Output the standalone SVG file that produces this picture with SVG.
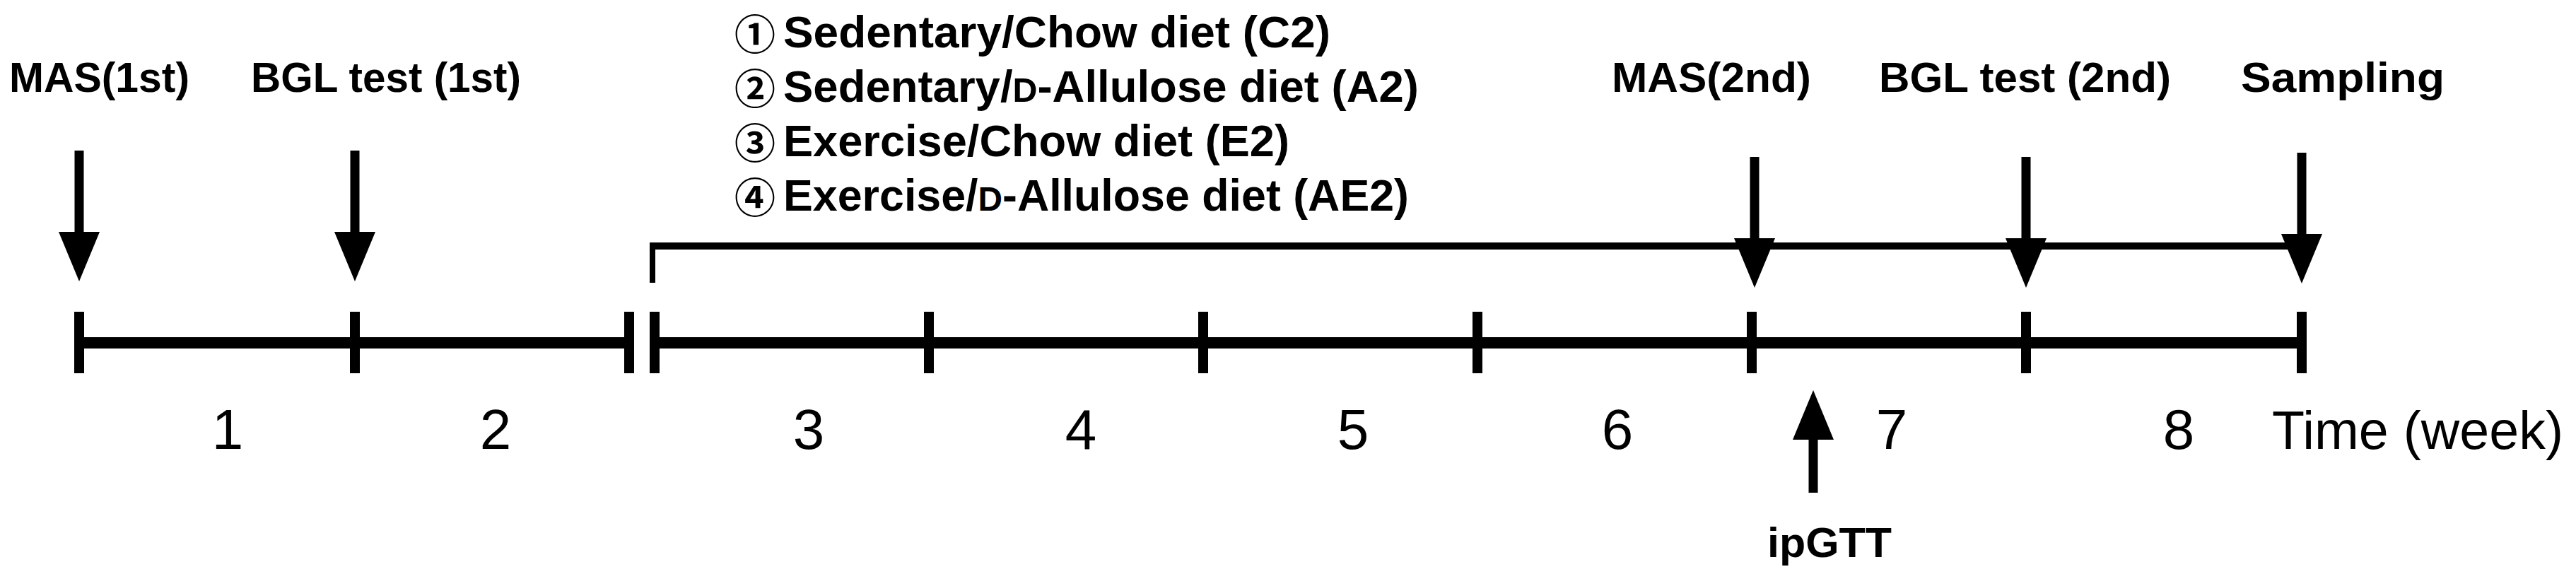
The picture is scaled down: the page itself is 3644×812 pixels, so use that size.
<svg xmlns="http://www.w3.org/2000/svg" width="3644" height="812" viewBox="0 0 3644 812">
<style>
  text { font-family: "Liberation Sans", Arial, sans-serif; fill: #000; }
  .lbl { font-weight: bold; font-size: 60px; }
  .lst { font-weight: bold; font-size: 63px; }
  .sc { font-size: 48px; }
  .circ { font-family: "Noto Sans CJK JP", "DejaVu Sans", sans-serif; font-weight: bold; font-size: 58px; text-anchor: middle; }
  .num { font-size: 80px; text-anchor: middle; }
  .axis { stroke: #000; stroke-width: 16; fill: none; }
  .tick { stroke: #000; stroke-width: 14; }
  .shaft { stroke: #000; stroke-width: 13; fill: none; marker-end: url(#head); }
  .brk { stroke: #000; fill: none; }
</style>
<defs>
  <marker id="head" viewBox="0 0 70 58" refX="0" refY="29" markerWidth="70" markerHeight="58" markerUnits="userSpaceOnUse" orient="auto">
    <path d="M0,0 L70,29 L0,58 Z" fill="#000"/>
  </marker>
</defs>
<rect width="3644" height="812" fill="#fff"/>

<g id="label-mas1"><text class="lbl" x="13" y="130" textLength="255" lengthAdjust="spacingAndGlyphs">MAS(1st)</text></g>
<g id="label-bgl1"><text class="lbl" x="355" y="130" textLength="382" lengthAdjust="spacingAndGlyphs">BGL test (1st)</text></g>
<g id="label-mas2"><text class="lbl" x="2280" y="130" textLength="282" lengthAdjust="spacingAndGlyphs">MAS(2nd)</text></g>
<g id="label-bgl2"><text class="lbl" x="2658" y="130" textLength="413" lengthAdjust="spacingAndGlyphs">BGL test (2nd)</text></g>
<g id="label-sampling"><text class="lbl" x="3170" y="130" textLength="288" lengthAdjust="spacingAndGlyphs">Sampling</text></g>

<g id="groups-list">
  <text class="circ" x="1068" y="70">①</text>
  <text class="lst" x="1108" y="67" textLength="774" lengthAdjust="spacingAndGlyphs">Sedentary/Chow diet (C2)</text>
  <text class="circ" x="1068" y="147">②</text>
  <text class="lst" x="1108" y="144" textLength="899" lengthAdjust="spacingAndGlyphs">Sedentary/<tspan class="sc">D</tspan>-Allulose diet (A2)</text>
  <text class="circ" x="1068" y="224">③</text>
  <text class="lst" x="1108" y="221" textLength="716" lengthAdjust="spacingAndGlyphs">Exercise/Chow diet (E2)</text>
  <text class="circ" x="1068" y="301">④</text>
  <text class="lst" x="1108" y="298" textLength="885" lengthAdjust="spacingAndGlyphs">Exercise/<tspan class="sc">D</tspan>-Allulose diet (AE2)</text>
</g>

<g id="treatment-bracket">
  <line class="brk" x1="919" y1="348" x2="3256" y2="348" stroke-width="10"/>
  <line class="brk" x1="923" y1="344" x2="923" y2="400" stroke-width="8"/>
</g>

<g id="timeline">
  <line class="axis" x1="112" y1="485" x2="890" y2="485"/>
  <line class="axis" x1="926" y1="485" x2="3256" y2="485"/>
  <line class="tick" x1="112" y1="441" x2="112" y2="528"/>
  <line class="tick" x1="502" y1="441" x2="502" y2="528"/>
  <line class="tick" x1="890" y1="441" x2="890" y2="528"/>
  <line class="tick" x1="926" y1="441" x2="926" y2="528"/>
  <line class="tick" x1="1314" y1="441" x2="1314" y2="528"/>
  <line class="tick" x1="1702" y1="441" x2="1702" y2="528"/>
  <line class="tick" x1="2090" y1="441" x2="2090" y2="528"/>
  <line class="tick" x1="2478" y1="441" x2="2478" y2="528"/>
  <line class="tick" x1="2866" y1="441" x2="2866" y2="528"/>
  <line class="tick" x1="3256" y1="441" x2="3256" y2="528"/>
</g>

<g id="week-labels">
  <text class="num" x="322" y="635">1</text>
  <text class="num" x="701" y="635">2</text>
  <text class="num" x="1144" y="635">3</text>
  <text class="num" x="1529" y="635">4</text>
  <text class="num" x="1914" y="635">5</text>
  <text class="num" x="2288" y="635">6</text>
  <text class="num" x="2676" y="635">7</text>
  <text class="num" x="3082" y="635">8</text>
  <text class="num" x="3214" y="635" style="text-anchor:start;font-size:76px" textLength="412" lengthAdjust="spacingAndGlyphs">Time (week)</text>
</g>

<g id="label-ipgtt"><text class="lbl" x="2500" y="788" textLength="176" lengthAdjust="spacingAndGlyphs">ipGTT</text></g>

<g id="connectors">
  <line class="shaft" x1="112" y1="213" x2="112" y2="328"/>
  <line class="shaft" x1="502" y1="213" x2="502" y2="328"/>
  <line class="shaft" x1="2482" y1="222" x2="2482" y2="337"/>
  <line class="shaft" x1="2866" y1="222" x2="2866" y2="337"/>
  <line class="shaft" x1="3256" y1="216" x2="3256" y2="331"/>
  <line class="shaft" x1="2565" y1="697" x2="2565" y2="622"/>
</g>
</svg>
